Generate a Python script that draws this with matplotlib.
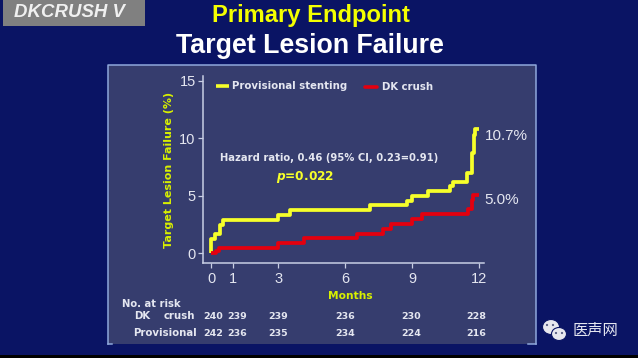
import matplotlib
matplotlib.use("Agg")
import matplotlib.pyplot as plt
import matplotlib.patches as mpatches

plt.rcParams["font.family"] = ["Liberation Sans", "DejaVu Sans"]

# ---- data ----
prov_x = [0, 0.02, 0.17, 0.39, 0.54, 3.0, 3.54, 7.12, 8.76, 8.98, 9.73, 10.68, 10.82, 11.48, 11.67, 11.75, 11.82, 12.0]
prov_y = [0, 1.2, 1.7, 2.4, 2.9, 3.35, 3.75, 4.15, 4.55, 5.0, 5.4, 5.8, 6.2, 6.95, 8.7, 10.3, 10.8, 10.8]
dk_x = [0, 0.24, 0.36, 3.0, 4.14, 6.52, 7.72, 8.04, 8.98, 9.43, 11.49, 11.67, 11.72, 12.0]
dk_y = [0, 0.2, 0.45, 0.9, 1.28, 1.65, 2.1, 2.55, 2.95, 3.4, 3.85, 4.6, 5.1, 5.1]

month_ticks = [0, 1, 3, 6, 9, 12]
y_ticks = [0, 5, 10, 15]
risk_dk = [240, 239, 239, 236, 230, 228]
risk_prov = [242, 236, 235, 234, 224, 216]
risk_x = [0.08, 1.18, 3, 6, 8.97, 11.88]

# ---- colours ----
BG = "#0a1464"
PANEL = "#363d6e"
EDGE = "#8fa8dc"
AXIS = "#c8cee4"
TEXT = "#e4e6f0"
YELLOW = "#f6ff2a"
LABEL_YELLOW = "#d8f000"
RED = "#e4000f"
BOLD = "DejaVu Sans"

W, H = 638, 358
fig = plt.figure(figsize=(W / 100, H / 100), dpi=100, facecolor=BG)

# overlay in pixel coordinates for the slide furniture
bg = fig.add_axes([0, 0, 1, 1], zorder=0)
bg.set_xlim(0, W)
bg.set_ylim(H, 0)
bg.axis("off")

bg.add_patch(mpatches.Rectangle((0, 355), W, 3, color="#000000", lw=0))
bg.add_patch(mpatches.Rectangle((3, 0), 142, 26, color="#808080", lw=0))
bg.add_patch(mpatches.Rectangle((108, 65), 428, 279, color=PANEL, lw=0))
bg.plot([108, 108, 536, 536], [344, 65, 65, 344], color=EDGE, lw=1.1)
bg.plot([108, 112], [344, 344], color=EDGE, lw=1.1)
bg.plot([528, 536], [344, 344], color=EDGE, lw=1.1)

bg.text(69.5, 12.5, "DKCRUSH V", color="#f0f0f0", fontsize=13.4, fontweight="bold",
        fontstyle="italic", ha="center", va="center")
bg.text(311, 15.5, "Primary Endpoint", color="#f4ff00", fontsize=17.1, fontweight="bold",
        ha="center", va="center")
bg.text(310, 46, "Target Lesion Failure", color="#ffffff", fontsize=19.3, fontweight="bold",
        ha="center", va="center")

# legend
bg.plot([216, 229], [86, 86], color=YELLOW, lw=2.6, solid_capstyle="butt")
bg.text(232, 86, "Provisional stenting", color=TEXT, fontsize=7.3, fontweight="bold",
        family=BOLD, ha="left", va="center")
bg.plot([365, 377], [87, 87], color=RED, lw=2.6, solid_capstyle="round")
bg.text(382, 87, "DK crush", color=TEXT, fontsize=7.3, fontweight="bold",
        family=BOLD, ha="left", va="center")

# annotations
bg.text(220, 158, "Hazard ratio, 0.46 (95% CI, 0.23=0.91)", color=TEXT, fontsize=7.2,
        fontweight="bold", family=BOLD, ha="left", va="center")
bg.text(276, 177, r"$\boldsymbol{p}$=0.022", color=YELLOW, fontsize=8.7, fontweight="bold",
        family=BOLD, ha="left", va="center", math_fontfamily="dejavusans")
bg.text(485, 136, "10.7%", color=TEXT, fontsize=11, ha="left", va="center")
bg.text(484, 200, "5.0%", color=TEXT, fontsize=11, ha="left", va="center")
bg.text(169, 170, "Target Lesion Failure (%)", color=LABEL_YELLOW, fontsize=8,
        fontweight="bold", family=BOLD, rotation=90, ha="center", va="center")
bg.text(350, 296, "Months", color=LABEL_YELLOW, fontsize=7.7, fontweight="bold",
        family=BOLD, ha="center", va="center")

# risk table headings
bg.text(122, 304, "No. at risk", color=TEXT, fontsize=7.2, fontweight="bold",
        family=BOLD, ha="left", va="center")
bg.text(134, 316, "DK", color=TEXT, fontsize=7.3, fontweight="bold",
        family=BOLD, ha="left", va="center")
bg.text(164, 316, "crush", color=TEXT, fontsize=7.3, fontweight="bold",
        family=BOLD, ha="left", va="center")
bg.text(133, 333, "Provisional", color=TEXT, fontsize=7.3, fontweight="bold",
        family=BOLD, ha="left", va="center")

# watermark
for cx, cy, w, h in [(551, 327, 17, 15), (559, 334, 15, 13)]:
    bg.add_patch(mpatches.Ellipse((cx, cy), w, h, facecolor="#e8e8ee",
                                  edgecolor=BG, lw=0.8, zorder=3))
for cx, cy in [(547, 325), (553, 325), (556, 333), (562, 333)]:
    bg.add_patch(mpatches.Circle((cx, cy), 1.1, color="#555a80", lw=0, zorder=4))
bg.text(595, 330, "医声网", color=TEXT, fontsize=11, family=["Noto Sans CJK SC", "DejaVu Sans"],
        ha="center", va="center")

# ---- main plot ----
left, right, top, bottom = 203, 484, 76, 263
ax = fig.add_axes([left / W, 1 - bottom / H, (right - left) / W, (bottom - top) / H], zorder=1)
ax.patch.set_visible(False)
ax.set_xlim(-0.36, 12.22)
ax.set_ylim(-0.87, 15.43)

ax.step(prov_x, prov_y, where="post", color=YELLOW, lw=2.7, solid_capstyle="butt", clip_on=False)
ax.step(dk_x, dk_y, where="post", color=RED, lw=2.7, solid_capstyle="butt", clip_on=False)

ax.set_xticks(month_ticks)
ax.set_yticks(y_ticks)
ax.tick_params(labelcolor=TEXT, labelsize=10.5, length=3.8, width=0.9, color=AXIS)
ax.tick_params(axis="x", pad=3)
ax.tick_params(axis="y", pad=1.5)
ax.spines[["top", "right"]].set_visible(False)
ax.spines[["left", "bottom"]].set_color(AXIS)
ax.spines[["left", "bottom"]].set_linewidth(1.1)

# numbers at risk under the month axis
trans = ax.get_xaxis_transform()
for xv, a, b in zip(risk_x, risk_dk, risk_prov):
    ax.text(xv, (bottom - 316.5) / (bottom - top), str(a), transform=trans, color=TEXT,
            fontsize=6.8, fontweight="bold", family=BOLD, ha="center", va="center", clip_on=False)
    ax.text(xv, (bottom - 333.5) / (bottom - top), str(b), transform=trans, color=TEXT,
            fontsize=6.8, fontweight="bold", family=BOLD, ha="center", va="center", clip_on=False)

fig.savefig("out.png", dpi=100, facecolor=BG)
